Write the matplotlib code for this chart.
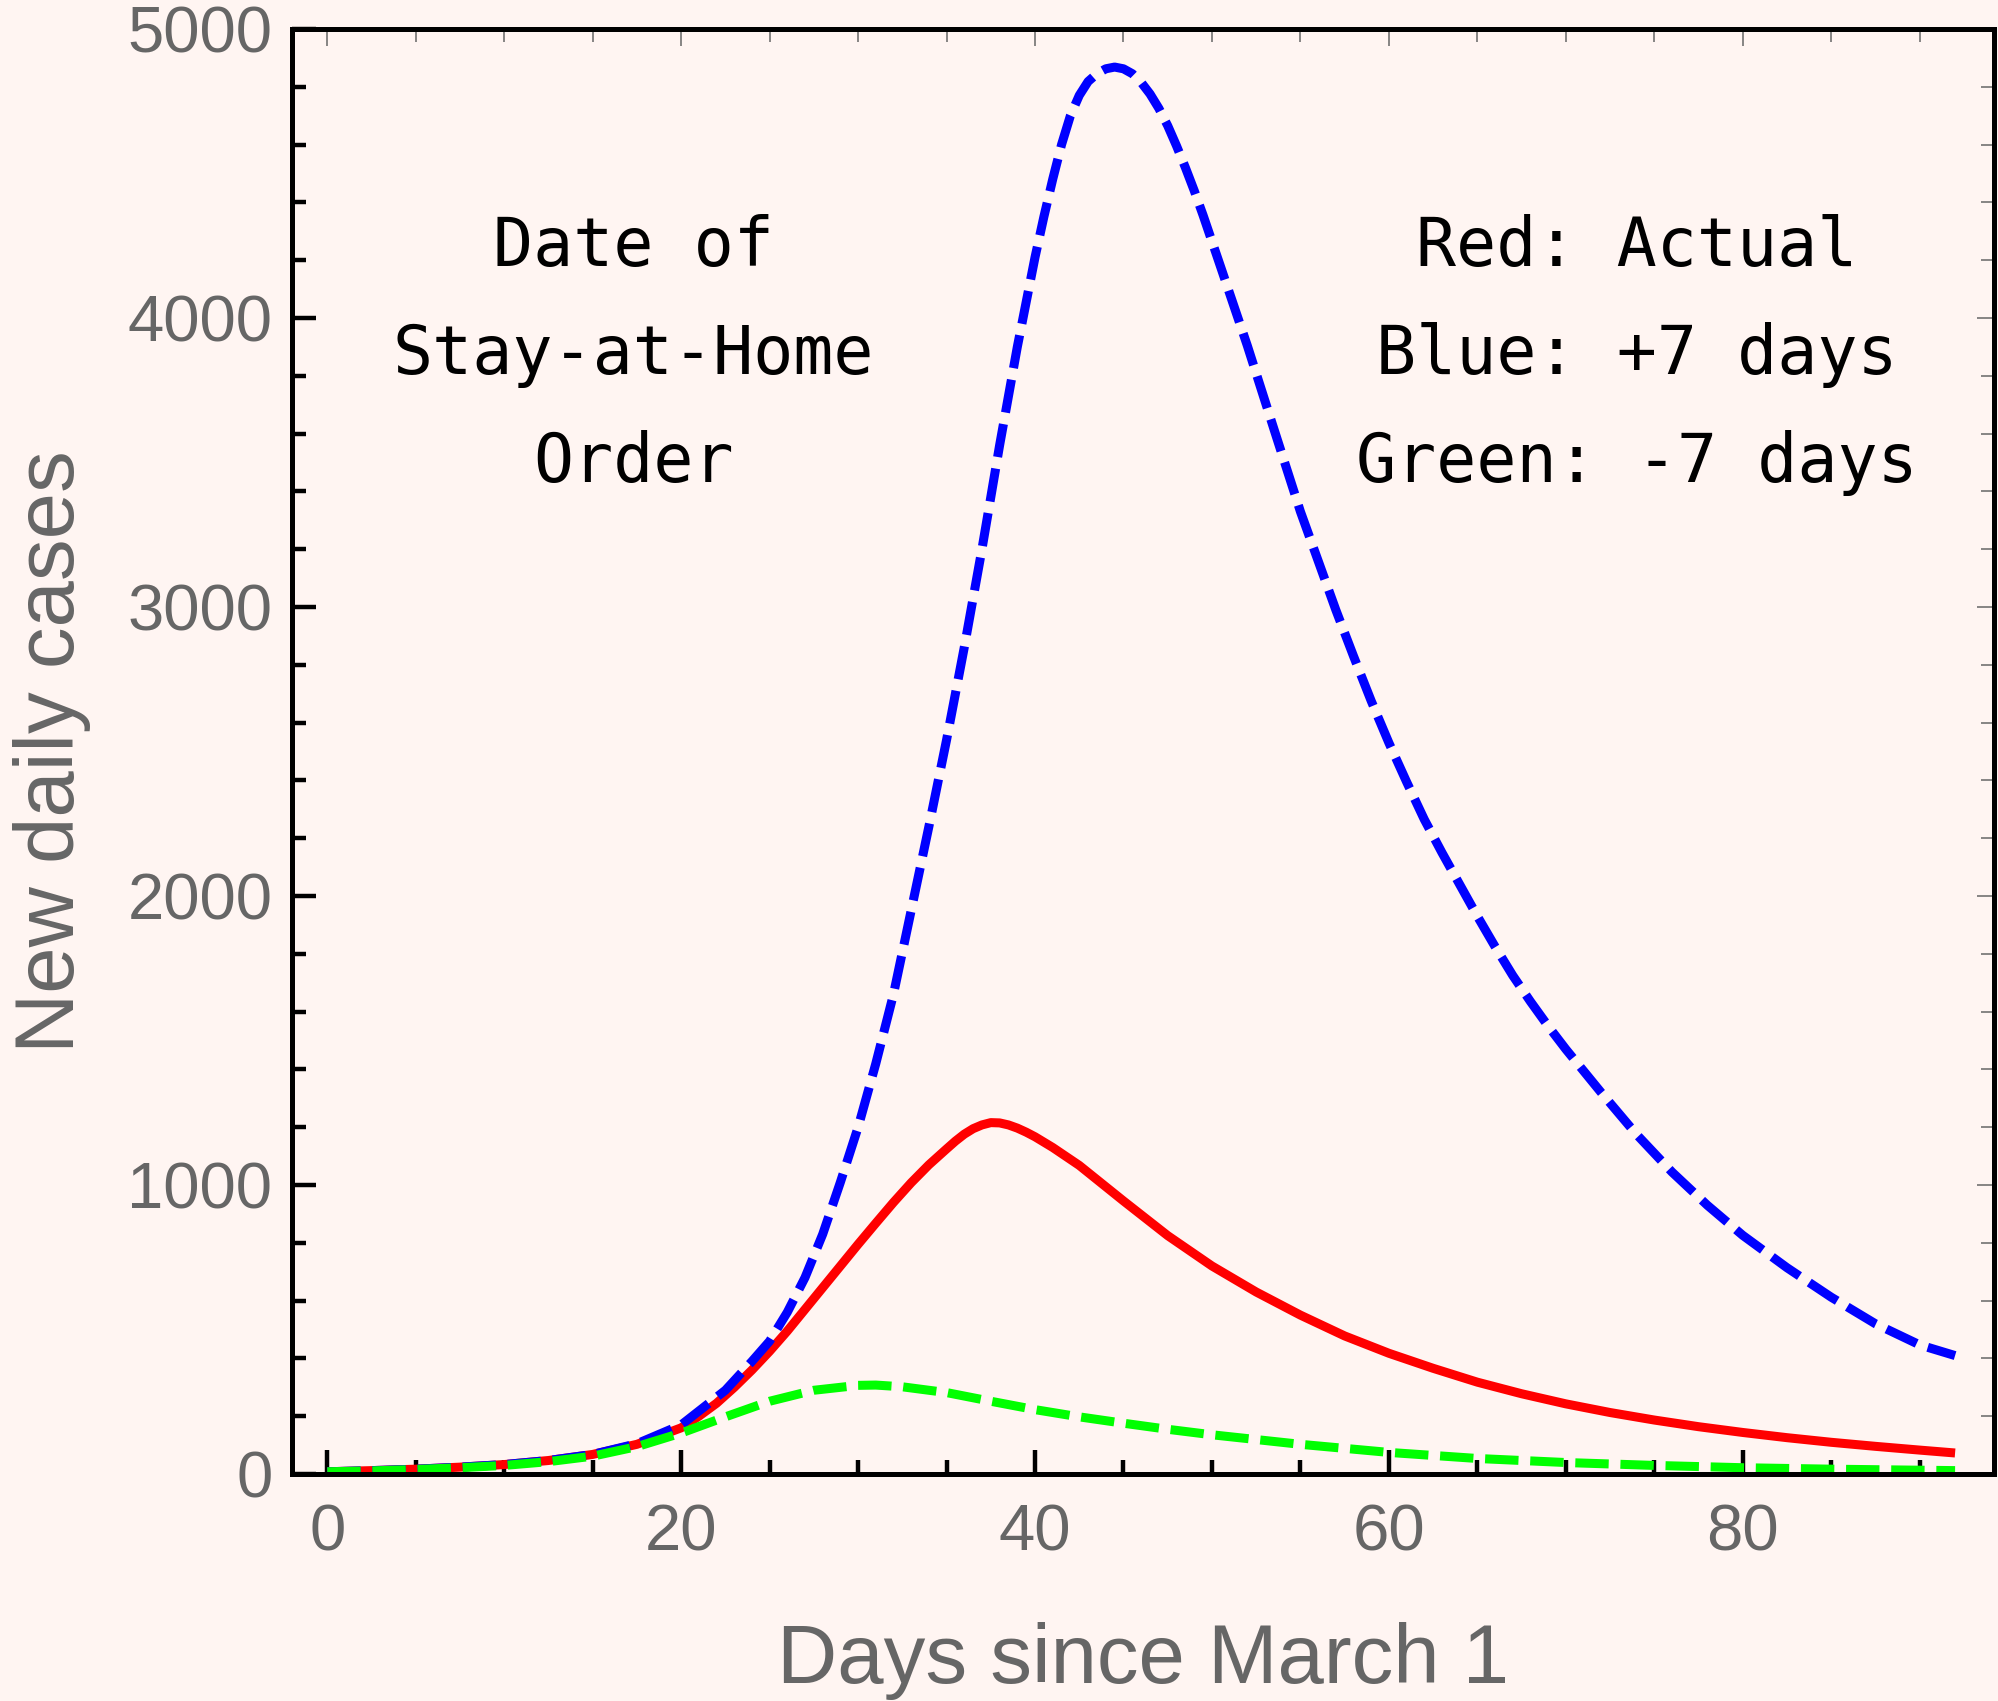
import matplotlib
matplotlib.use("Agg")
import matplotlib.pyplot as plt
from matplotlib.ticker import MultipleLocator

# Valores (dias desde el 1 de marzo, casos nuevos por dia)
red_days = [0, 2.5, 5, 7.5, 10, 12.5, 15, 17.5, 20, 21, 22, 23, 24, 25, 26, 27, 28, 29, 30, 31,
            32, 33, 34, 35, 35.5, 36, 36.5, 37, 37.5, 38, 38.5, 39, 39.5, 40, 41, 42.5, 45, 47.5,
            50, 52.5, 55, 57.5, 60, 62.5, 65, 67.5, 70, 72.5, 75, 77.5, 80, 82.5, 85, 87.5, 90, 92]
red_cases = [8, 12, 17, 24, 33, 47, 68, 103, 160, 200, 245, 300, 360, 425, 495, 570, 645, 720, 795,
             868, 940, 1008, 1070, 1125, 1152, 1176, 1195, 1208, 1216, 1215, 1208, 1197, 1183, 1167,
             1130, 1068, 945, 825, 720, 630, 550, 478, 418, 366, 318, 278, 243, 213, 187, 164, 144,
             126, 110, 96, 83, 73]

blue_days = [0, 2.5, 5, 7.5, 10, 12.5, 15, 17.5, 20, 22.5, 24, 25, 26, 27, 28, 29, 30, 31, 32, 33,
             34, 35, 36, 37, 38, 39, 40, 40.5, 41, 41.5, 42, 42.5, 43, 43.5, 44, 44.5, 45, 45.5, 46,
             46.5, 47, 47.5, 48, 48.5, 49, 49.5, 50, 50.5, 52, 53.5, 55, 56, 57, 58, 59, 60, 61, 62,
             63, 64, 65, 66, 67, 68, 69, 70, 72, 74, 76, 78, 80, 82.5, 85, 87.5, 90, 92]
blue_cases = [8, 12, 17, 24, 33, 47, 68, 105, 170, 290, 390, 460, 560, 680, 830, 1010, 1200, 1420,
              1660, 1950, 2240, 2540, 2860, 3200, 3560, 3900, 4210, 4350, 4480, 4600, 4700, 4770,
              4818, 4845, 4862, 4868, 4862, 4845, 4815, 4775, 4725, 4665, 4595, 4520, 4440, 4355,
              4265, 4175, 3904, 3616, 3330, 3160, 2990, 2830, 2675, 2530, 2395, 2265, 2150, 2040,
              1930, 1825, 1725, 1635, 1550, 1470, 1320, 1175, 1045, 930, 826, 714, 612, 520, 447, 410]

green_days = [0, 2.5, 5, 7.5, 10, 12.5, 15, 17.5, 20, 22.5, 25, 27.5, 30, 31, 32.5, 35, 37.5, 40,
              42.5, 45, 47.5, 50, 55, 60, 65, 70, 75, 80, 85, 92]
green_cases = [8, 11, 16, 22, 30, 43, 62, 95, 142, 198, 252, 290, 307, 308, 302, 282, 252, 223,
               198, 176, 155, 136, 103, 75, 54, 40, 30, 22, 17, 12]

x_major = [0, 20, 40, 60, 80]
y_major = [0, 1000, 2000, 3000, 4000, 5000]

left_text = "Date of\nStay-at-Home\nOrder"
right_text = "Red: Actual\nBlue: +7 days\nGreen: -7 days"

bg = "#fff5f2"
grey = "#666666"

fig = plt.figure(figsize=(19.98, 17.01), dpi=100, facecolor=bg)
ax = fig.add_axes([0.1461, 0.1334, 0.8519, 0.8496], facecolor=bg)

dash = (0, (3.7, 1.3))
ax.plot(red_days, red_cases, color="#ff0000", lw=6.5, solid_capstyle="butt", solid_joinstyle="round")
ax.plot(blue_days, blue_cases, color="#0000ff", lw=6.5, ls=dash, dash_capstyle="butt")
ax.plot(green_days, green_cases, color="#00ff00", lw=6.5, ls=dash, dash_capstyle="butt")

ax.set_xlim(-2.0, 94.2)
ax.set_ylim(0, 5000)

for s in ax.spines.values():
    s.set_linewidth(3.6)
    s.set_color("black")

# ticks de abajo e izquierda (negros, gruesos)
ax.set_xticks(x_major)
ax.set_yticks(y_major)
ax.xaxis.set_minor_locator(MultipleLocator(5))
ax.yaxis.set_minor_locator(MultipleLocator(200))
ax.tick_params(which="both", direction="in", color="black", width=3.2,
               top=False, right=False, labelcolor=grey, labelsize=47)
ax.tick_params(which="major", length=17)
ax.tick_params(which="minor", length=10)
ax.tick_params(axis="x", pad=21)
ax.tick_params(axis="y", pad=14)
for lab in ax.get_xticklabels() + ax.get_yticklabels():
    lab.set_family("Liberation Sans")

# ticks de arriba y derecha (grises, finos)
top = ax.secondary_xaxis("top")
top.set_xticks(x_major)
top.xaxis.set_minor_locator(MultipleLocator(5))
top.tick_params(which="both", direction="in", color=grey, width=1.1, labeltop=False)
top.tick_params(which="major", length=12)
top.tick_params(which="minor", length=9.5)
top.spines["top"].set_visible(False)

right = ax.secondary_yaxis("right")
right.set_yticks(y_major)
right.yaxis.set_minor_locator(MultipleLocator(200))
right.tick_params(which="both", direction="in", color=grey, width=1.1, labelright=False)
right.tick_params(which="major", length=12)
right.tick_params(which="minor", length=9.5)
right.spines["right"].set_visible(False)

ax.set_xlabel("Days since March 1", fontsize=60, color=grey, family="Liberation Sans", va="baseline")
ax.xaxis.set_label_coords(0.5, -0.1446)
ax.set_ylabel("New daily cases", fontsize=60, color=grey, family="Liberation Sans", va="baseline")
ax.yaxis.set_label_coords(-0.128, 0.5)

ax.text(17.3, 3872, left_text, ha="center", va="center", multialignment="center",
        family="DejaVu Sans Mono", fontsize=48, linespacing=1.81, color="black")
ax.text(74.0, 3872, right_text, ha="center", va="center", multialignment="center",
        family="DejaVu Sans Mono", fontsize=48, linespacing=1.81, color="black")

fig.savefig("out.png", dpi=100, facecolor=bg)
